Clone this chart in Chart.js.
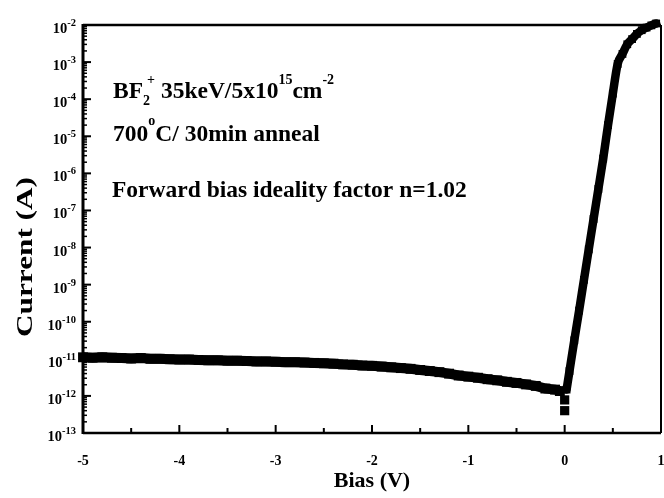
<!DOCTYPE html>
<html><head><meta charset="utf-8">
<script src="https://cdn.jsdelivr.net/npm/chart.js@4.4.1/dist/chart.umd.min.js"></script>
<style>html,body{margin:0;padding:0;background:#fff}canvas{display:block}</style>
</head><body>
<canvas id="c" width="664" height="498"></canvas>
<script>
// ---- data ----
const reverseBias = [-5.0,-4.9,-4.8,-4.7,-4.6,-4.5,-4.4,-4.3,-4.2,-4.1,-4.0,-3.9,-3.8,-3.7,-3.6,-3.5,-3.4,-3.3,-3.2,-3.1,-3.0,-2.9,-2.8,-2.7,-2.6,-2.5,-2.4,-2.3,-2.2,-2.1,-2.0,-1.9,-1.8,-1.7,-1.6,-1.5,-1.4,-1.3,-1.2,-1.1,-1.0,-0.9,-0.8,-0.7,-0.6,-0.5,-0.4,-0.3,-0.2,-0.1,-0.05];
const reverseCurrent = [1.10e-11,1.07e-11,1.10e-11,1.07e-11,1.05e-11,1.02e-11,1.05e-11,1.00e-11,1.00e-11,9.77e-12,9.55e-12,9.55e-12,9.33e-12,9.12e-12,9.12e-12,8.91e-12,8.91e-12,8.71e-12,8.51e-12,8.51e-12,8.32e-12,8.13e-12,8.13e-12,7.94e-12,7.76e-12,7.59e-12,7.41e-12,7.08e-12,6.92e-12,6.61e-12,6.46e-12,6.17e-12,5.89e-12,5.62e-12,5.37e-12,5.01e-12,4.68e-12,4.37e-12,3.98e-12,3.55e-12,3.31e-12,3.09e-12,2.82e-12,2.63e-12,2.40e-12,2.24e-12,2.04e-12,1.86e-12,1.58e-12,1.48e-12,1.35e-12];
const zeroBias = [0, 0];
const zeroCurrent = [7.8e-13, 4.0e-13];
const forwardBias = [0.02,0.05,0.10,0.15,0.20,0.25,0.30,0.35,0.40,0.45,0.50,0.55,0.60,0.65,0.70,0.75,0.80,0.85,0.90,0.95];
const forwardCurrent = [1.48e-12,4.68e-12,3.16e-11,2.00e-10,1.35e-9,8.91e-9,5.89e-8,3.80e-7,2.51e-6,2.00e-5,1.41e-4,8.91e-4,1.66e-3,3.02e-3,4.17e-3,5.75e-3,7.24e-3,8.51e-3,9.77e-3,1.10e-2];
const xTickValues = [-5,-4,-3,-2,-1,0,1];
const xMinorValues = [-4.5,-3.5,-2.5,-1.5,-0.5,0.5];
const yTickExponents = [-2,-3,-4,-5,-6,-7,-8,-9,-10,-11,-12,-13];
const xTitle = 'Bias (V)';
const yTitle = 'Current (A)';

const SERIF = '"Liberation Serif","Times New Roman",serif';
const pts = (xs, ys) => xs.map((x, i) => ({x, y: ys[i]}));

const decor = {
  id: 'decor',
  afterDatasetsDraw(chart) {
    const {ctx, chartArea: a, scales: {x, y}} = chart;
    ctx.save();
    ctx.strokeStyle = '#000'; ctx.fillStyle = '#000';
    // frame
    ctx.lineWidth = 3; ctx.beginPath(); ctx.moveTo(a.left, a.top - 1); ctx.lineTo(a.left, a.bottom + 1); ctx.stroke();
    ctx.lineWidth = 2.5; ctx.beginPath(); ctx.moveTo(a.left, a.bottom); ctx.lineTo(a.right, a.bottom); ctx.stroke();
    ctx.lineWidth = 2.5; ctx.beginPath(); ctx.moveTo(a.left, a.top); ctx.lineTo(a.right, a.top); ctx.stroke();
    ctx.lineWidth = 2; ctx.beginPath(); ctx.moveTo(a.right, a.top); ctx.lineTo(a.right, a.bottom); ctx.stroke();
    // x ticks (inward)
    ctx.lineWidth = 2;
    xTickValues.forEach(v => { const p = x.getPixelForValue(v); ctx.beginPath(); ctx.moveTo(p, a.bottom); ctx.lineTo(p, a.bottom - 8); ctx.stroke(); });
    xMinorValues.forEach(v => { const p = x.getPixelForValue(v); ctx.beginPath(); ctx.moveTo(p, a.bottom); ctx.lineTo(p, a.bottom - 5); ctx.stroke(); });
    // y ticks (inward)
    yTickExponents.forEach(e => {
      const p = y.getPixelForValue(Math.pow(10, e));
      ctx.lineWidth = 2; ctx.beginPath(); ctx.moveTo(a.left, p); ctx.lineTo(a.left + 8, p); ctx.stroke();
      if (e < -2) {
        ctx.lineWidth = 1.5;
        for (let k = 2; k <= 9; k++) {
          const q = y.getPixelForValue(k * Math.pow(10, e));
          ctx.beginPath(); ctx.moveTo(a.left, q); ctx.lineTo(a.left + 4, q); ctx.stroke();
        }
      }
      // label 10^e
      const expTxt = String(e);
      ctx.font = 'bold 10.5px ' + SERIF;
      const ew = ctx.measureText(expTxt).width;
      const rx = a.left - 7;
      ctx.textAlign = 'left'; ctx.textBaseline = 'alphabetic';
      ctx.fillText(expTxt, rx - ew, p + 1);
      ctx.font = 'bold 14.5px ' + SERIF;
      ctx.textAlign = 'right';
      ctx.fillText('10', rx - ew, p + 8);
    });
    // y title (rotated)
    ctx.save();
    ctx.font = 'bold 24px ' + SERIF;
    const tw = ctx.measureText(yTitle).width;
    ctx.translate(26, 257);
    ctx.rotate(-Math.PI / 2);
    ctx.scale(160 / tw, 1);
    ctx.textAlign = 'center'; ctx.textBaseline = 'middle';
    ctx.fillText(yTitle, 0, 0);
    ctx.restore();
    // annotations
    const big = 'bold 23.5px ' + SERIF, small = 'bold 14px ' + SERIF;
    function run(parts, x0, base) {
      let cx = x0;
      parts.forEach(([t, f, dy, adv]) => {
        ctx.font = f; ctx.textAlign = 'left'; ctx.textBaseline = 'alphabetic';
        ctx.fillText(t, cx, base + dy);
        cx += adv === undefined ? ctx.measureText(t).width : adv;
      });
    }
    run([['BF', big, 0], ['2', small, 7, 4], ['+', small, -14], [' 35keV/5x10', big, 0], ['15', small, -14], ['cm', big, 0], ['-2', small, -14]], 113, 98);
    run([['700', big, 0], ['o', small, -16], ['C/ 30min anneal', big, 0]], 113, 141);
    run([['Forward bias ideality factor n=1.02', big, 0]], 112, 197);
    ctx.restore();
  }
};

new Chart(document.getElementById('c'), {
  type: 'scatter',
  data: {
    datasets: [
      {data: pts(reverseBias, reverseCurrent), showLine: true, borderColor: '#000', backgroundColor: '#000', borderWidth: 10, pointStyle: 'rect', pointRadius: 7, pointBorderWidth: 0, clip: false},
      {data: pts(zeroBias, zeroCurrent), showLine: false, borderColor: '#000', backgroundColor: '#000', pointStyle: 'rect', pointRadius: 6.5, pointBorderWidth: 0, clip: false},
      {data: pts(forwardBias, forwardCurrent), showLine: true, borderColor: '#000', backgroundColor: '#000', borderWidth: 8.5, borderJoinStyle: 'round', borderCapStyle: 'round', cubicInterpolationMode: 'monotone', pointStyle: 'rect', pointRadius: 5.5, pointBorderWidth: 0, clip: false}
    ]
  },
  options: {
    responsive: false, animation: false, devicePixelRatio: 1,
    layout: {padding: {top: 25, right: 3, left: 0, bottom: 0}, autoPadding: false},
    plugins: {legend: {display: false}, tooltip: {enabled: false}},
    scales: {
      x: {
        type: 'linear', position: 'bottom', min: -5, max: 1,
        grid: {display: false, drawTicks: false}, border: {display: false},
        afterBuildTicks: s => { s.ticks = xTickValues.map(v => ({value: v})); },
        ticks: {color: '#000', padding: 20, maxRotation: 0, font: {family: SERIF, weight: 'bold', size: 14}, callback: v => String(v)},
        title: {display: true, text: xTitle, color: '#000', font: {family: SERIF, weight: 'bold', size: 22}, padding: {top: 0, bottom: 3}},
        afterFit: s => { s.height = 65; s.paddingLeft = 0; s.paddingRight = 0; }
      },
      y: {
        type: 'logarithmic', position: 'left', min: 1e-13, max: 1e-2,
        grid: {display: false, drawTicks: false}, border: {display: false},
        ticks: {display: false},
        afterFit: s => { s.width = 83; s.paddingTop = 0; s.paddingBottom = 0; }
      }
    }
  },
  plugins: [decor]
});
</script>
</body></html>
